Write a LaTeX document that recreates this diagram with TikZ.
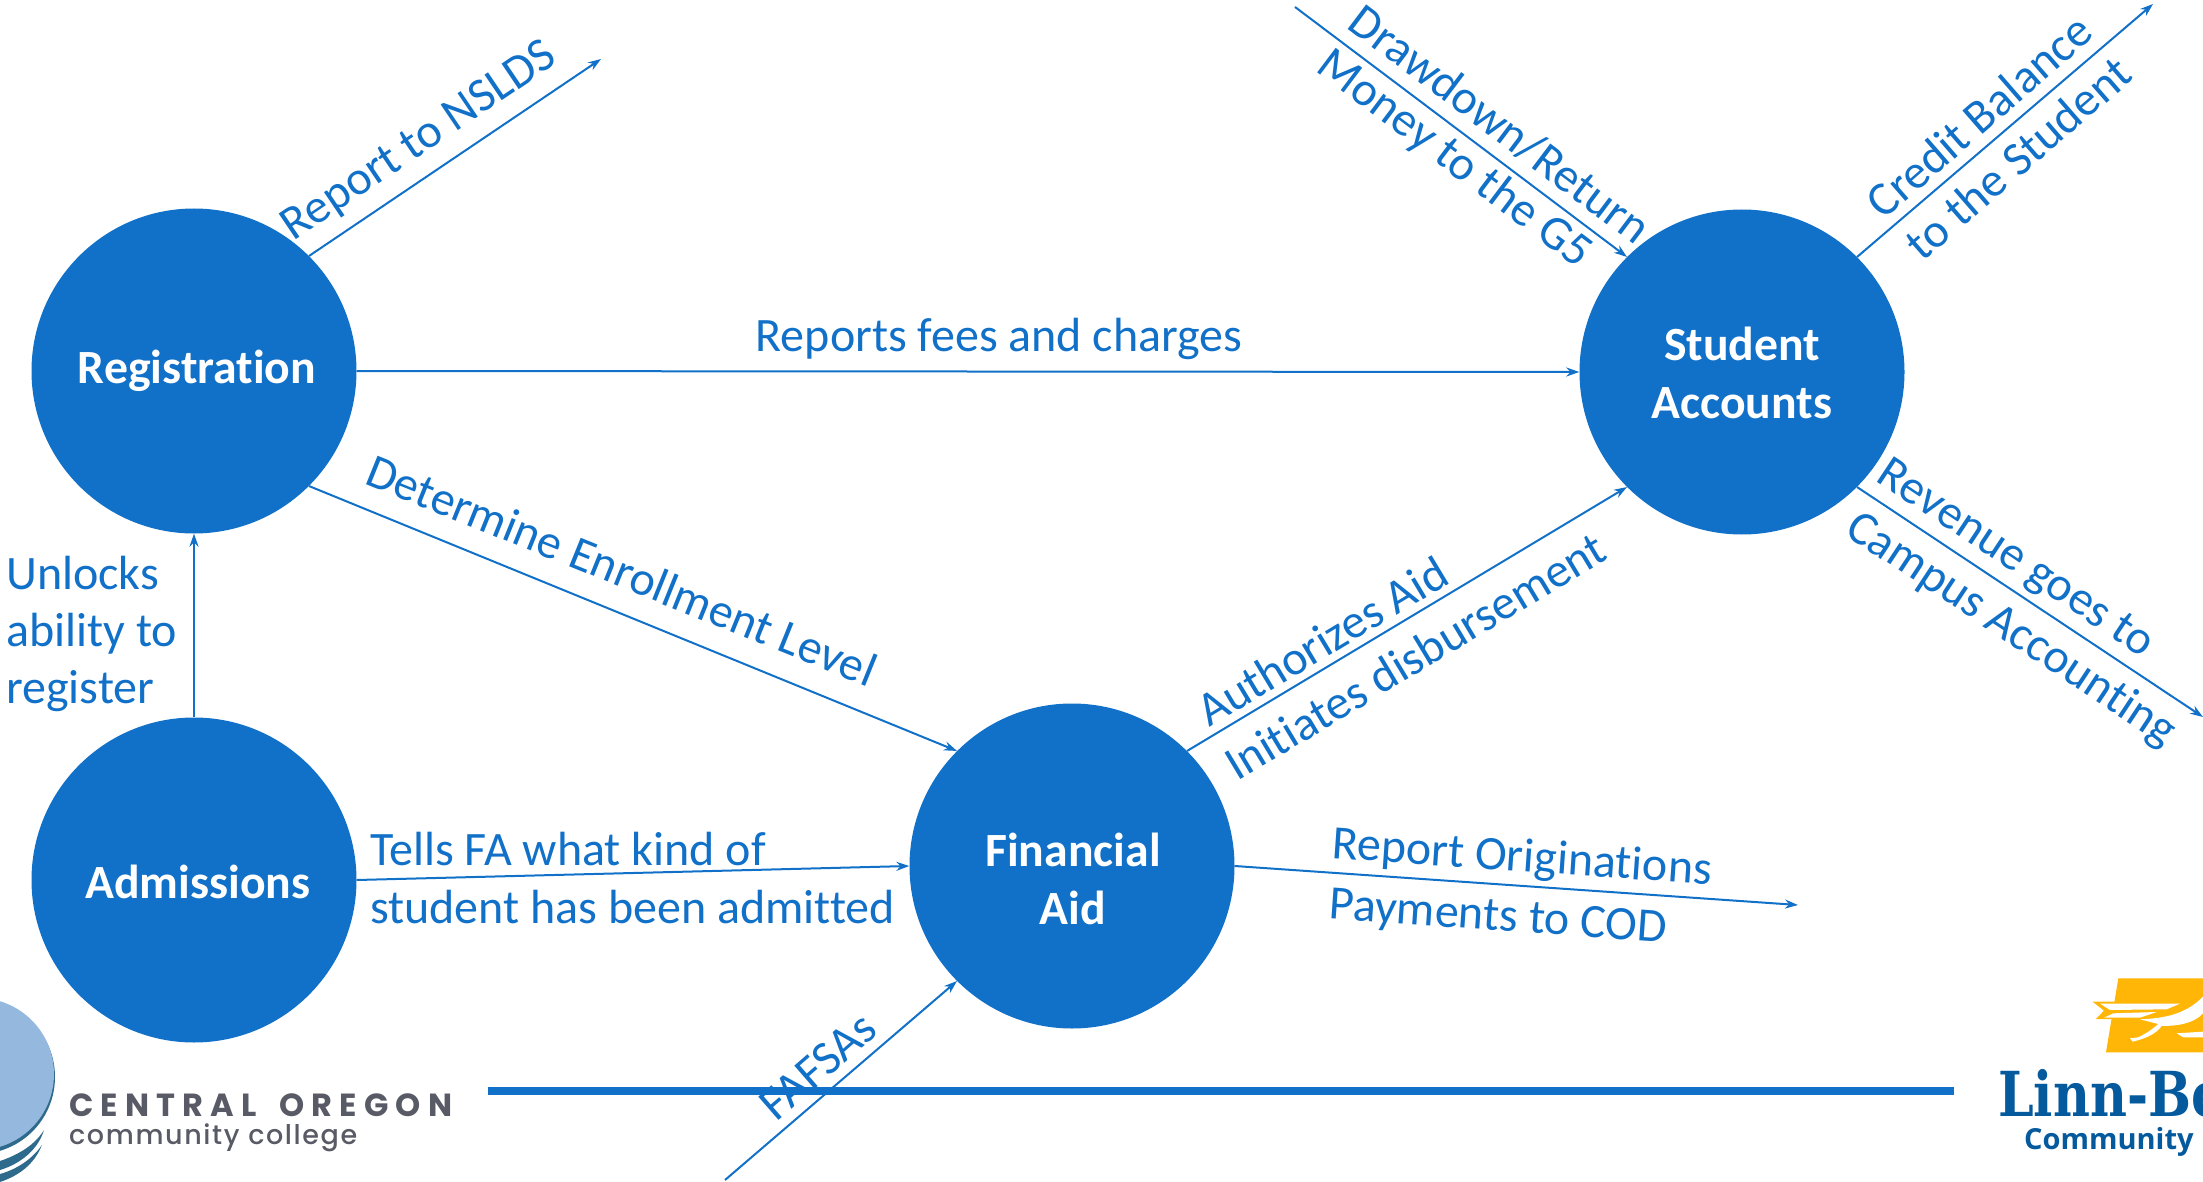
\documentclass[tikz,border=0pt]{standalone}
\usepackage{fontspec}
\setmainfont[Ligatures=NoCommon]{Carlito}
\newfontfamily\logosans[LetterSpace=22.5,WordSpace=1.6]{Poppins}
\newfontfamily\logosanb[LetterSpace=6]{Poppins Medium}
\newfontfamily\linnserif[FakeStretch=0.82]{DejaVu Serif}
\newfontfamily\linnsans{Open Sans}
\usetikzlibrary{arrows.meta}
\definecolor{mainblue}{HTML}{1170C8}
\definecolor{lightdisc}{HTML}{94B8DE}
\definecolor{swoosh}{HTML}{2E6A8C}
\definecolor{logogray}{HTML}{585B65}
\definecolor{linnblue}{HTML}{045A9C}
\definecolor{linnyellow}{HTML}{FFB606}
\tikzset{
  hub/.style={circle,fill=mainblue,minimum size=325pt,inner sep=0pt},
  hubtext/.style={text=white,inner sep=0pt,font=\fontsize{47.7}{47.7}\selectfont\bfseries},
  flow/.style={draw=mainblue,line width=2pt,-{Stealth[length=13pt,width=9pt]}},
  lab/.style={text=mainblue,inner sep=0pt,font=\fontsize{48}{56}\selectfont},
  rule/.style={draw=mainblue,line width=8pt}
}
\begin{document}
\begin{tikzpicture}[x=1pt,y=-1pt]
\useasboundingbox (0,0) rectangle (2203,1182);
\clip (0,0) rectangle (2203,1182);
% left logo
\fill[swoosh] (-22,1077) circle[radius=77];
\fill[lightdisc] (-22,1074) circle[radius=76];
\fill[swoosh] (0,1161) .. controls (18,1155) and (35,1145) .. (44,1130) .. controls (38,1150) and (20,1164) .. (0,1170) -- cycle;
\fill[swoosh] (0,1174) .. controls (18,1169) and (33,1158) .. (42,1145) .. controls (34,1165) and (18,1176) .. (0,1182) -- cycle;
\node[text=logogray,anchor=base west,inner sep=0pt,font=\fontsize{32}{32}\selectfont\logosans\bfseries] (coname) at (69,1116) {CENTRAL OREGON};
\node[text=logogray,anchor=base west,inner sep=0pt,font=\fontsize{27}{27}\selectfont\logosanb] (cosub) at (69,1144) {community college};
% right logo
\begin{scope}[shift={(1900,950)},x=0.3333pt,y=-0.3333pt]
\fill[linnyellow] (655,85) -- (909,85) -- (909,307) -- (618,307) -- cycle;
\fill[linnyellow] (578,155) -- (660,155) -- (650,207) -- (588,207) -- (612,182) -- cycle;
\fill[white] (600,161) -- (840,161) -- (800,178) -- (630,180) -- cycle;
\fill[white] (612,203) -- (640,190) -- (770,186) -- (720,203) -- cycle;
\fill[white] (720,208) .. controls (800,205) and (860,190) .. (909,140) -- (909,190) .. controls (880,222) and (830,228) .. (785,228) .. controls (770,250) and (740,265) .. (698,275) -- (690,265) -- (715,262) .. controls (740,250) and (760,235) .. (775,222) -- cycle;
\fill[white] (830,250) -- (909,245) -- (909,262) -- (850,262) -- cycle;
\end{scope}
\node[text=linnblue,anchor=base west,inner sep=0pt,font=\fontsize{62}{62}\selectfont\linnserif\bfseries] (lbname) at (1998,1116) {Linn-Be};
\node[text=linnblue,anchor=base west,inner sep=0pt,font=\fontsize{29}{29}\selectfont\linnsans\bfseries] (lbsub) at (2024,1149) {Community};
\coordinate (ruleL) at (488,1091);
\coordinate (ruleR) at (1954,1091);
\draw[rule] (ruleL) -- (ruleR);
% hubs
\node[hub] (reg) at (194,371) {};
\node[hub] (sa) at (1742,372) {};
\node[hub] (adm) at (194,880) {};
\node[hub] (fa) at (1072,866) {};
\node[hubtext] (regt) at (197,371) {Registration};
\node[hubtext] (sat1) at (1742,344) {Student};
\node[hubtext] (sat2) at (1742,403) {Accounts};
\node[hubtext] (admt) at (198,882) {Admissions};
\node[hubtext] (fat1) at (1073,850) {Financial};
\node[hubtext] (fat2) at (1073,908) {Aid};
% free ends
\coordinate (nslds) at (601,59);
\coordinate (cod) at (1798,905);
\coordinate (fafsa) at (725,1180);
\coordinate (gfive) at (1295,7);
\coordinate (cred) at (2153,4);
\coordinate (rev) at (2203,717);
% connectors
\draw[flow] (reg.45) -- (nslds);
\draw[flow] (reg.east) -- (sa.west);
\draw[flow] (reg.-45) -- (fa.135);
\draw[flow] (adm.north) -- (reg.south);
\draw[flow] (adm.east) -- (fa.west);
\draw[flow] (fa.45) -- (sa.225);
\draw[flow] (fa.east) -- (cod);
\draw[flow] (fafsa) -- (fa.225);
\draw[flow] (gfive) -- (sa.135);
\draw[flow] (sa.45) -- (cred);
\draw[flow] (sa.-45) -- (rev);
% labels
\node[lab,rotate=34] (l1) at (420,142) {Report to NSLDS};
\node[lab] (l2) at (999,339) {Reports fees and charges};
\node[lab,rotate=-22] (l3) at (622,570) {Determine Enrollment Level};
\node[lab,anchor=west] (l4a) at (6,573) {Unlocks};
\node[lab,anchor=west] (l4b) at (6,634) {ability to};
\node[lab,anchor=west] (l4c) at (6,691) {register};
\node[lab,anchor=west] (l5a) at (370,849) {Tells FA what kind of};
\node[lab,anchor=west] (l5b) at (370,907) {student has been admitted};
\node[lab,rotate=-4] (l6a) at (1522,859) {Report Originations};
\node[lab,rotate=-4] (l6b) at (1498,919) {Payments to COD};
\node[lab,rotate=31] (l7a) at (1322,641) {Authorizes Aid};
\node[lab,rotate=31] (l7b) at (1415,656) {Initiates disbursement};
\node[lab,rotate=41] (l8) at (818,1066) {FAFSAs};
\node[lab,rotate=-37] (l9a) at (1500,124) {Drawdown/Return};
\node[lab,rotate=-37] (l9b) at (1454,160) {Money to the G5};
\node[lab,rotate=41] (l10a) at (1979,116) {Credit Balance};
\node[lab,rotate=41] (l10b) at (2018,158) {to the Student};
\node[lab,rotate=-33.5] (l11a) at (2015,560) {Revenue goes to};
\node[lab,rotate=-33.5] (l11b) at (2011,630) {Campus Accounting};
\end{tikzpicture}
\end{document}
